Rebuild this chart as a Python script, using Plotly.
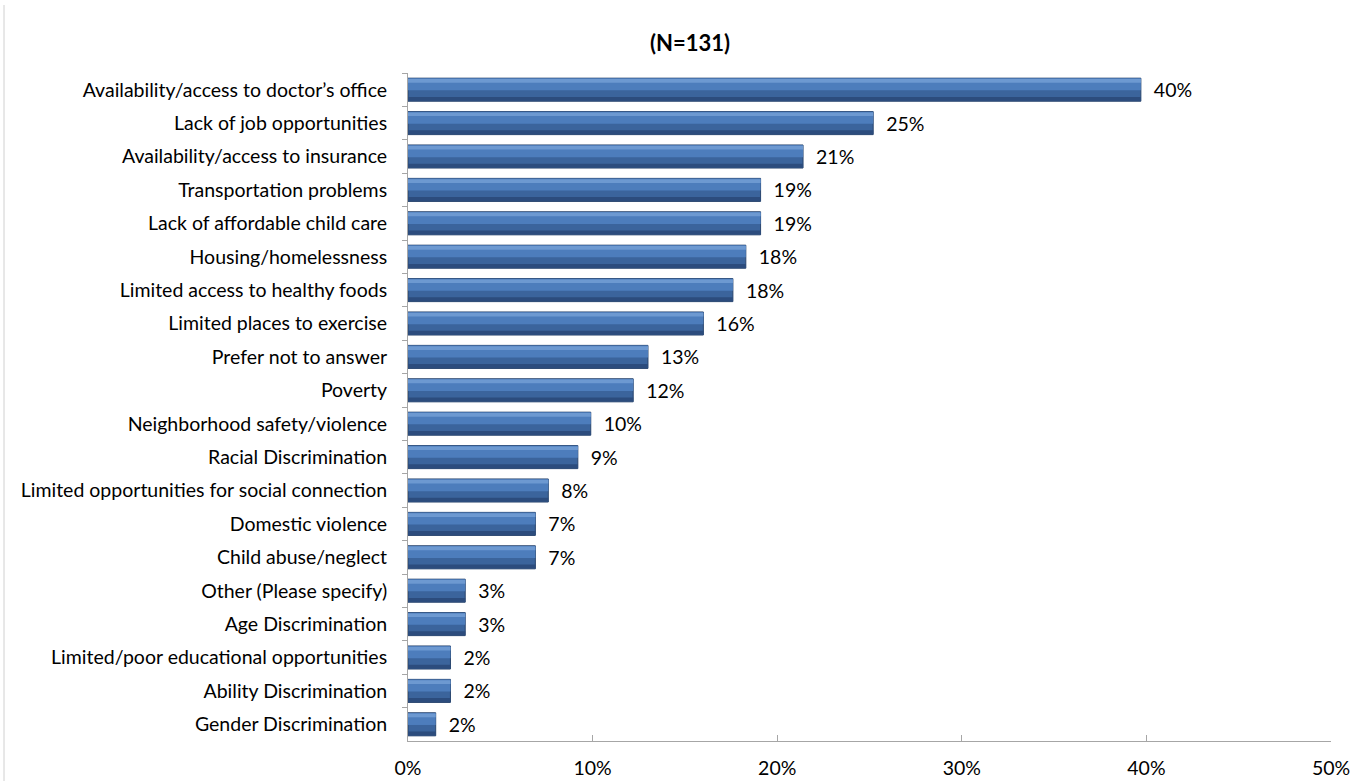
import plotly.graph_objects as go

# Community issues named by respondents (share of respondents, N=131)
categories = [
    "Availability/access to doctor’s office",
    "Lack of job opportunities",
    "Availability/access to insurance",
    "Transportation problems",
    "Lack of affordable child care",
    "Housing/homelessness",
    "Limited access to healthy foods",
    "Limited places to exercise",
    "Prefer not to answer",
    "Poverty",
    "Neighborhood safety/violence",
    "Racial Discrimination",
    "Limited opportunities for social connection",
    "Domestic violence",
    "Child abuse/neglect",
    "Other (Please specify)",
    "Age Discrimination",
    "Limited/poor educational opportunities",
    "Ability Discrimination",
    "Gender Discrimination",
]
shares = [0.397, 0.252, 0.214, 0.191, 0.191, 0.183, 0.176, 0.160, 0.130, 0.122,
          0.099, 0.092, 0.076, 0.069, 0.069, 0.031, 0.031, 0.023, 0.023, 0.015]

x_ticks = [0, 0.1, 0.2, 0.3, 0.4, 0.5]
x_tick_labels = ["0%", "10%", "20%", "30%", "40%", "50%"]

FONT = "Lato"
SIZE = 19.5


def face(width, offset, color):
    """One horizontal band of the bevelled bar body."""
    return go.Bar(
        x=shares, y=categories, orientation="h", width=width, offset=offset,
        marker=dict(color=color, line=dict(width=0)),
        hoverinfo="skip", showlegend=False,
    )


fig = go.Figure()

# base of the bevelled bar, carries the value labels
fig.add_trace(go.Bar(
    x=shares, y=categories, orientation="h", width=0.69,
    marker=dict(color="#3b649c", line=dict(color="#29456d", width=1)),
    text=shares, texttemplate="  %{x:.0%}", textposition="outside",
    textfont=dict(family=FONT, size=SIZE, color="#000000"),
    cliponaxis=False, hoverinfo="skip", showlegend=False,
))
fig.add_trace(face(0.36, -0.34, "#4d7dbc"))   # upper face
fig.add_trace(face(0.11, -0.32, "#6d99d1"))   # highlight near the top edge
fig.add_trace(face(0.12, 0.215, "#2c4c7d"))   # shaded lower edge

fig.update_layout(
    width=1369, height=781,
    margin=dict(l=408, r=38, t=73, b=40, pad=0),
    paper_bgcolor="#ffffff", plot_bgcolor="#ffffff",
    barmode="overlay",
    font=dict(family=FONT, size=SIZE, color="#000000"),
    title=dict(text="<b>(N=131)</b>", x=0.504, xanchor="center",
               y=0.945, yanchor="middle",
               font=dict(family=FONT, size=22, color="#000000")),
    xaxis=dict(
        range=[0, 0.5], tickvals=x_ticks, ticktext=x_tick_labels,
        showgrid=False, zeroline=False,
        showline=True, linecolor="#a6a6a6", linewidth=1,
        ticks="inside", ticklen=6, tickcolor="#a6a6a6",
        ticklabelstandoff=10, automargin=False,
        tickfont=dict(family=FONT, size=SIZE, color="#000000"),
        fixedrange=True,
    ),
    yaxis=dict(
        categoryorder="array", categoryarray=categories,
        autorange="reversed",
        showgrid=False, zeroline=False,
        showline=True, linecolor="#a6a6a6", linewidth=1,
        ticks="outside", ticklen=5, tickcolor="#a6a6a6",
        tickson="boundaries", ticklabelstandoff=16, automargin=False,
        tickfont=dict(family=FONT, size=SIZE, color="#000000"),
        fixedrange=True,
    ),
    shapes=[dict(type="line", xref="paper", yref="paper",
                 x0=-404 / 923, x1=-404 / 923, y0=0 - 40 / 668, y1=1 + 68 / 668,
                 line=dict(color="#d0d0d0", width=1))],
)

fig.write_html("out.html")
